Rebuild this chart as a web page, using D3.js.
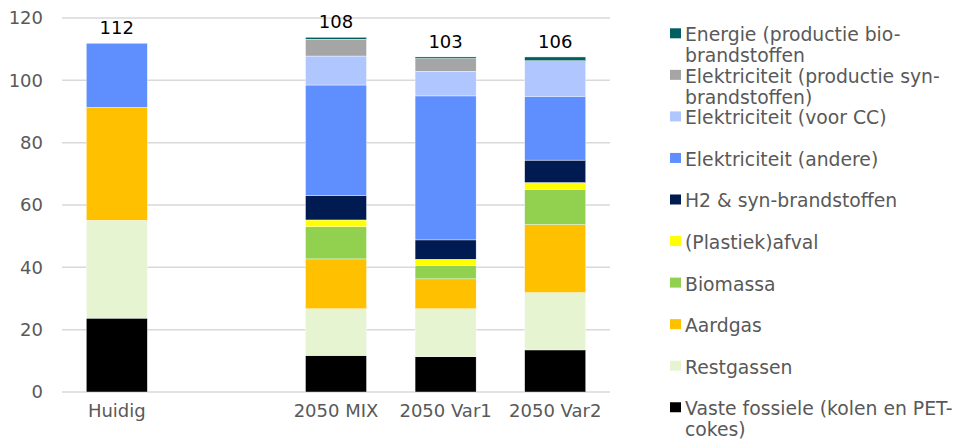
<!DOCTYPE html>
<html>
<head>
<meta charset="utf-8">
<script src="https://cdn.jsdelivr.net/npm/d3@7"></script>
<style>
  html, body { margin: 0; padding: 0; background: #fff; }
  svg { display: block; font-family: "DejaVu Sans", Verdana, sans-serif; }
</style>
</head>
<body>
<svg id="chart" width="959" height="439"></svg>
<script>
const categories = ["Huidig", "", "2050 MIX", "2050 Var1", "2050 Var2"];
const totalLabels = [112, null, 108, 103, 106];

const vasteFossiele   = [23.7, null, 11.7, 11.3, 13.5];
const restgassen      = [31.4, null, 15.0, 15.4, 18.4];
const aardgas         = [36.2, null, 16.0, 9.6, 21.8];
const biomassa        = [0,    null, 10.3, 4.2, 11.2];
const plastiekafval   = [0,    null, 2.2,  2.1, 2.3];
const h2Syn           = [0,    null, 7.8,  6.2, 7.2];
const elekAndere      = [20.6, null, 35.5, 46.2, 20.5];
const elekVoorCC      = [0,    null, 9.3,  7.9, 11.4];
const elekSyn         = [0,    null, 5.4,  4.1, 0];
const energieBio      = [0,    null, 0.6,  0.5, 1.2];

const yTicks = [0, 20, 40, 60, 80, 100, 120];

// series bottom -> top
const series = [
  { name: "Vaste fossiele (kolen en PET-\ncokes)", values: vasteFossiele, color: "#000000" },
  { name: "Restgassen", values: restgassen, color: "#e6f4d2" },
  { name: "Aardgas", values: aardgas, color: "#ffc000" },
  { name: "Biomassa", values: biomassa, color: "#92d050" },
  { name: "(Plastiek)afval", values: plastiekafval, color: "#ffff00" },
  { name: "H2 & syn-brandstoffen", values: h2Syn, color: "#001a52" },
  { name: "Elektriciteit (andere)", values: elekAndere, color: "#5f8fff" },
  { name: "Elektriciteit (voor CC)", values: elekVoorCC, color: "#b0c6ff" },
  { name: "Elektriciteit (productie syn-\nbrandstoffen)", values: elekSyn, color: "#a5a5a5" },
  { name: "Energie (productie bio-\nbrandstoffen", values: energieBio, color: "#005f5f" }
];

const svg = d3.select("#chart");
const margin = { left: 62 };

const x = d3.scaleBand().domain(categories).range([margin.left, 610]).paddingInner(0.443).paddingOuter(0.2215);
const y = d3.scaleLinear().domain([0, 120]).range([392, 18]);

// gridlines
svg.append("g").selectAll("line").data(yTicks).join("line")
  .attr("x1", margin.left).attr("x2", 610)
  .attr("y1", d => y(d)).attr("y2", d => y(d))
  .attr("stroke", "#d9d9d9").attr("stroke-width", 1.5);

// y axis labels
const yAxis = d3.axisLeft(y).tickValues(yTicks).tickSize(0).tickPadding(0);
const yg = svg.append("g").attr("transform", `translate(43,0)`).call(yAxis);
yg.select(".domain").remove();
yg.selectAll("text").attr("font-size", 18).attr("fill", "#595959").attr("font-family", "DejaVu Sans, Verdana, sans-serif");

// x axis labels
const xAxis = d3.axisBottom(x).tickSize(0).tickPadding(0);
const xg = svg.append("g").attr("transform", `translate(0,404)`).call(xAxis);
xg.select(".domain").remove();
xg.selectAll("text").attr("font-size", 18).attr("fill", "#595959").attr("font-family", "DejaVu Sans, Verdana, sans-serif");

// stack
const rows = categories.map((c, i) => {
  const r = { cat: c };
  series.forEach((s, k) => r["s" + k] = s.values[i] == null ? 0 : s.values[i]);
  return r;
});
const stack = d3.stack().keys(series.map((s, k) => "s" + k));
const stacked = stack(rows);

svg.append("g").selectAll("g").data(stacked).join("g")
  .attr("fill", (d, k) => series[k].color)
  .selectAll("rect").data(d => d.filter(p => p[1] - p[0] > 0)).join("rect")
  .attr("x", d => x(d.data.cat))
  .attr("width", x.bandwidth())
  .attr("y", d => y(d[1]))
  .attr("height", d => y(d[0]) - y(d[1]))
  .attr("stroke", "#ffffff").attr("stroke-width", 0.4);

// total labels
const tops = rows.map(r => series.reduce((a, s, k) => a + r["s" + k], 0));
svg.append("g").selectAll("text").data(categories.map((c, i) => ({ c, t: totalLabels[i], top: tops[i] })).filter(d => d.t != null))
  .join("text")
  .attr("x", d => x(d.c) + x.bandwidth() / 2)
  .attr("y", d => y(d.top) - 9)
  .attr("text-anchor", "middle")
  .attr("font-size", 18).attr("fill", "#000")
  .text(d => d.t);

// legend (top -> bottom)
const legendItems = series.slice().reverse();
const lg = svg.append("g").attr("transform", "translate(670,33.3)");
const item = lg.selectAll("g").data(legendItems).join("g")
  .attr("transform", (d, i) => `translate(0,${i * 41.55})`);
item.append("rect").attr("x", 0).attr("y", -5).attr("width", 11).attr("height", 10).attr("fill", d => d.color);
item.append("text")
  .attr("x", 15).attr("y", 0)
  .attr("font-size", 18.8).attr("fill", "#595959")
  .each(function(d) {
    const t = d3.select(this);
    d.name.split("\n").forEach((line, j) => {
      t.append("tspan").attr("x", 15).attr("dy", j === 0 ? "0.42em" : 21).text(line);
    });
  });
</script>
</body>
</html>
